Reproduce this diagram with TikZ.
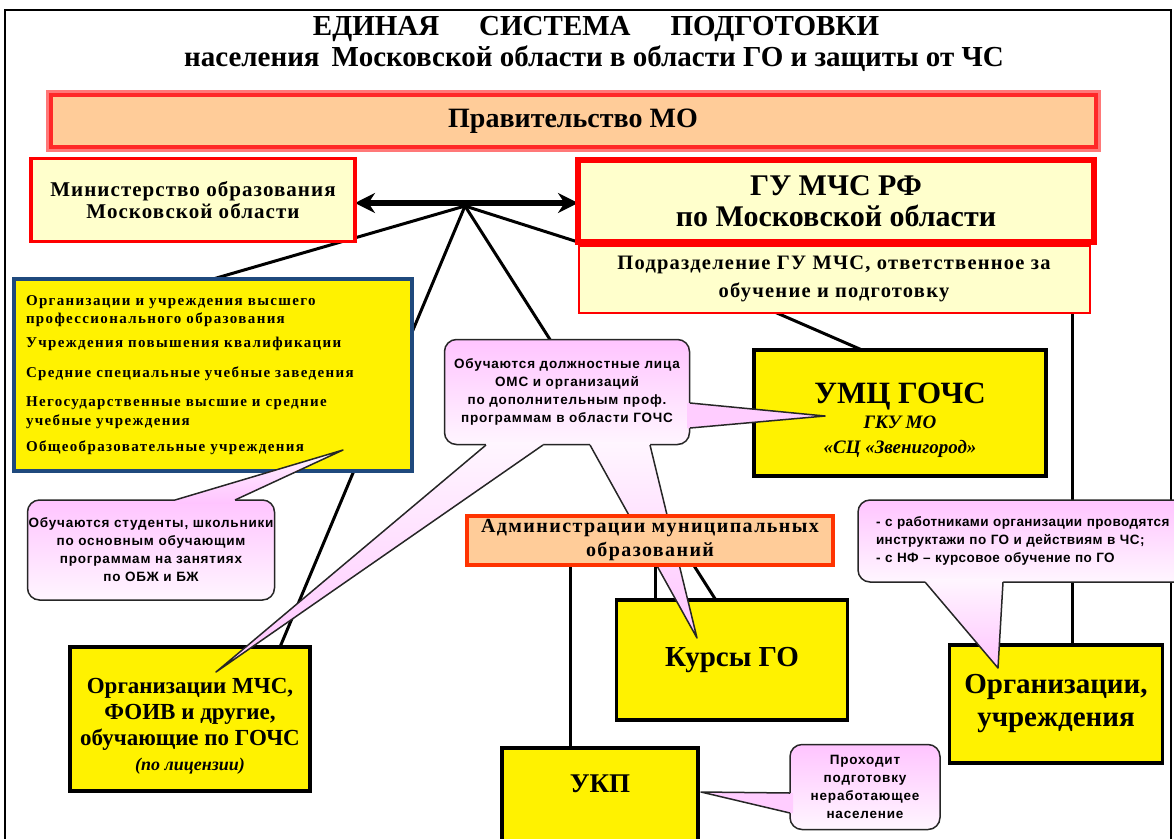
\documentclass[tikz,border=0pt]{standalone}
\usepackage{fontspec}
\setmainfont{Liberation Serif}
\setsansfont{Liberation Sans}
\usetikzlibrary{arrows.meta,calc}

\definecolor{peach}{RGB}{255,204,153}
\definecolor{lightyel}{RGB}{255,255,204}
\definecolor{navyline}{RGB}{31,73,125}
\definecolor{pinktop}{RGB}{255,196,255}
\definecolor{pinkbot}{RGB}{255,246,255}
\definecolor{admred}{RGB}{255,51,0}
\definecolor{govred}{RGB}{255,40,40}
\definecolor{glowred}{RGB}{255,120,120}

\pgfdeclarelayer{bg}
\pgfsetlayers{bg,main}

\newcommand{\calltail}[5][tailfill]{%
  \path[#1] ($(#2)+(#5)$) -- (#2) -- (#4) -- (#3) -- ($(#3)+(#5)$) -- cycle;
  \draw[tailline] (#2) -- (#4) -- (#3);}

\begin{document}
\begin{tikzpicture}[x=1pt,y=-1pt,
  every node/.style={outer sep=0pt, inner sep=0pt, align=center},
  govbox/.style={fill=peach, draw=govred, line width=4pt,
    preaction={draw=glowred, line width=10pt}},
  redbox/.style={fill=lightyel, draw=red, line width=#1},
  ybox/.style={fill=yellow, draw=black, line width=3.5pt},
  listbox/.style={fill=yellow, draw=navyline, line width=4pt},
  admbox/.style={fill=peach, draw=admred, line width=4pt},
  callout/.style={draw=black!85, line width=1.5pt, rounded corners=12pt,
    top color=pinktop, bottom color=pinkbot,
    font=\sffamily\bfseries\fontsize{13.5}{18}\selectfont\addfontfeature{LetterSpace=6}},
  tailfill/.style={top color=pinkbot, bottom color=pinktop},
  sidefill/.style={fill=pinktop!85!white},
  tailline/.style={draw=black!85, line width=1.5pt, line join=round},
  link/.style={line width=3pt},
  titlefont/.style={font=\bfseries\fontsize{29}{30}\selectfont}]
\useasboundingbox (0,0) rectangle (1174,838);

\node[titlefont] (title1) at (596,29) {ЕДИНАЯ\hspace{40pt}СИСТЕМА\hspace{40pt}ПОДГОТОВКИ};
\node[titlefont] (title2) at (594,59) {населения\, Московской области в области ГО и защиты от ЧС};

\node[govbox, minimum width=1045, minimum height=52,
  font=\bfseries\fontsize{28}{30}\selectfont] (gov) at (573,121) {Правительство МО};

\node[redbox=3.5pt, minimum width=324, minimum height=83,
  font=\bfseries\fontsize{21}{22}\selectfont\addfontfeature{LetterSpace=5}] (mo) at (193,200)
  {Министерство образования\\Московской области};

\node[redbox=2pt, minimum width=511, minimum height=67,
  font=\bfseries\fontsize{20.5}{28}\selectfont\addfontfeature{LetterSpace=6}] (sub) at (834,279)
  {Подразделение ГУ МЧС, ответственное за\\обучение и подготовку};
\node[redbox=6pt, minimum width=516, minimum height=82,
  font=\bfseries\fontsize{30}{31}\selectfont] (gu) at (836,201)
  {ГУ МЧС РФ\\по Московской области};

\node[listbox, minimum width=398, minimum height=192, text width=374, align=left,
  font=\bfseries\fontsize{15}{17}\selectfont\addfontfeature{LetterSpace=9}] (edu) at (213,375)
  {Организации и учреждения высшего\\[1pt]
   профессионального образования\\[7pt]
   Учреждения повышения квалификации\\[13pt]
   Средние специальные учебные заведения\\[12pt]
   Негосударственные высшие и средние\\[2pt]
   учебные учреждения\\[9pt]
   Общеобразовательные учреждения};

\node[ybox, minimum width=292, minimum height=126,
  font=\bfseries\itshape\fontsize{19}{25}\selectfont] (umc) at (900,413)
  {{\upshape\fontsize{31}{34}\selectfont\rule{0pt}{36pt}УМЦ ГОЧС}\\[0pt]
   ГКУ МО\\
   «СЦ «Звенигород»};

\node[ybox, minimum width=231, minimum height=120,
  font=\bfseries\fontsize{29}{32}\selectfont] (kursy) at (732,660) {Курсы ГО};

\node[ybox, minimum width=240, minimum height=144,
  font=\bfseries\fontsize{23}{26}\selectfont] (omchs) at (190,719)
  {\rule{0pt}{30pt}Организации МЧС,\\
   ФОИВ и другие,\\
   обучающие по ГОЧС\\[-1pt]
   {\itshape\fontsize{18}{20}\selectfont (по лицензии)}};

\node[ybox, minimum width=213, minimum height=118,
  font=\bfseries\fontsize{29}{33}\selectfont] (org) at (1056,704)
  {Организации,\\учреждения};

\node[ybox, minimum width=196, anchor=north, inner ysep=26pt, text height=18pt,
  text depth=60pt, font=\bfseries\fontsize{27}{30}\selectfont] (ukp) at (600,748) {УКП};

\node[callout, minimum width=247, minimum height=100] (c1) at (151,550)
  {Обучаются студенты, школьники\\по основным обучающим\\программам на занятиях\\по ОБЖ и БЖ};
\calltail{175,500}{235,500}{343,450}{0,3}

\node[callout, minimum width=245, minimum height=105] (c2) at (567,392)
  {Обучаются должностные лица\\ОМС и организаций\\по дополнительным проф.\\программам в области ГОЧС};
\calltail[sidefill]{690,403}{690,428}{825,416}{-3,0}
\calltail{486,445}{543,445}{216,672}{0,-3}
\calltail{590,445}{650,445}{697,638}{0,-3}

\node[callout, text width=340, inner xsep=18pt, minimum height=82, align=left,
  font=\sffamily\bfseries\fontsize{13.5}{18}\selectfont\addfontfeature{LetterSpace=3}] (c3) at (1046,541)
  {- с работниками организации проводятся\\инструктажи по ГО и действиям в ЧС;\\- с НФ -- курсовое обучение по ГО};
\calltail{925,582}{1003,582}{998,668}{0,-3}

\node[callout, minimum width=150, minimum height=85] (c4) at (865,787)
  {Проходит\\подготовку\\неработающее\\население};
\calltail[sidefill]{790,793}{790,813}{701,792}{3,0}

\node[admbox, minimum width=366, minimum height=49,
  font=\bfseries\fontsize{20}{24}\selectfont\addfontfeature{LetterSpace=7}] (adm) at (650,540)
  {Администрации муниципальных\\образований};

\coordinate (hub) at (465,206);
\coordinate (arrowl) at ($(mo.east)+(0,3)$);
\coordinate (orgtop) at ($(org.north)+(16,0)$);
\coordinate (ukptop) at ($(adm.south west)+(103,0)$);
\coordinate (kursytop) at ($(adm.south west)+(188,0)$);

\begin{pgfonlayer}{bg}
\draw[line width=2pt] (5,850) -- (5,10) -- (1171,10) -- (1171,850);
\draw[line width=6pt, {Stealth[length=20pt,width=20pt]}-{Stealth[length=20pt,width=20pt]}]
  (arrowl) -- (arrowl -| gu.west);
\draw[link] (hub) -- (edu.north);
\draw[link] (hub) -- ($(omchs.north)!0.75!(omchs.north east)$);
\draw[link] (hub) -- ($(kursy.north west)!0.43!(kursy.north east)$);
\draw[link] (hub) -- (gu.south west);
\draw[link] ($(sub.south west)!0.386!(sub.south east)$) -- ($(umc.north west)!0.37!(umc.north east)$);
\draw[link] (orgtop) -- (orgtop |- sub.south);
\draw[link] (ukptop) -- (ukptop |- ukp.north);
\draw[link] (kursytop) -- (kursytop |- kursy.north);
\end{pgfonlayer}
\end{tikzpicture}
\end{document}
